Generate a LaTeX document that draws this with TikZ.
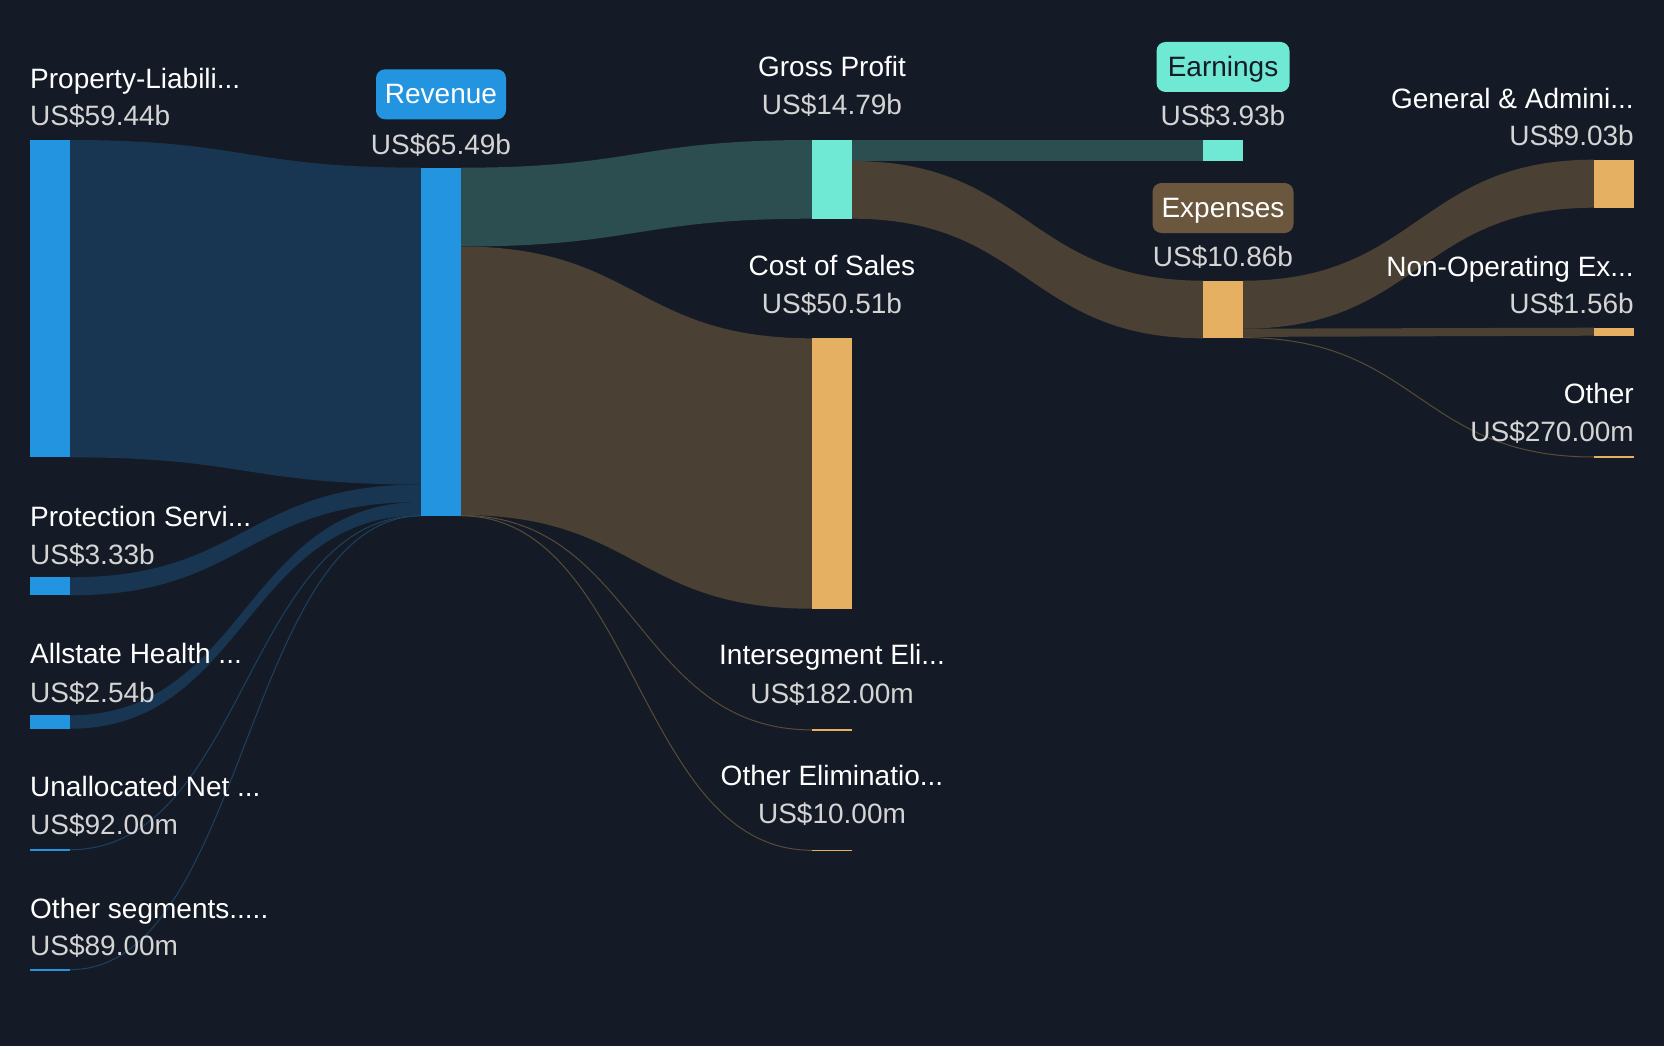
\documentclass[tikz,border=0pt]{standalone}
\usepackage{fontspec}
\setmainfont{Liberation Sans}
\definecolor{bg}{RGB}{21,27,38}
\definecolor{barblue}{RGB}{35,148,223}
\definecolor{flowblue}{RGB}{24,54,82}
\definecolor{thinblue}{RGB}{28,64,96}
\definecolor{barteal}{RGB}{111,232,212}
\definecolor{flowteal}{RGB}{44,78,81}
\definecolor{barorange}{RGB}{229,176,97}
\definecolor{flowbrown}{RGB}{74,64,51}
\definecolor{thinbrown}{RGB}{88,75,56}
\definecolor{expbox}{RGB}{107,87,61}
\definecolor{valgrey}{RGB}{212,212,212}
\newcommand\sflow[7]{%
  \pgfmathsetmacro\xmid{(#1+#4)/2}%
  \fill[#7] (#1,#2) .. controls (\xmid,#2) and (\xmid,#5) .. (#4,#5) -- (#4,#6) .. controls (\xmid,#6) and (\xmid,#3) .. (#1,#3) -- cycle;}
\newcommand\tflow[5]{%
  \pgfmathsetmacro\xmid{(#1+#3)/2}%
  \draw[#5, line width=1pt] (#1,#2) .. controls (\xmid,#2) and (\xmid,#4) .. (#3,#4);}
\newcommand\sbar[6]{%
  \pgfmathsetmacro\hh{#5-#3}%
  \node[fill=#6, inner sep=0pt, outer sep=0pt, minimum width=40pt, minimum height=\hh pt, anchor=north west] (#1) at (#2,#3) {};}
\tikzset{
  x=1pt, y=-1pt,
  lbl/.style={font=\fontsize{28}{32}\selectfont, text=white, inner sep=0pt},
  val/.style={font=\fontsize{28}{32}\selectfont, text=valgrey, inner sep=0pt},
  tagbox/.style={font=\fontsize{28}{32}\selectfont, rounded corners=9pt, inner sep=0pt, minimum height=50pt, text height=24pt, text depth=5.4pt},
}
\begin{document}
\begin{tikzpicture}
\fill[bg] (0,0) rectangle (1664,1046);
\useasboundingbox (0,0) rectangle (1664,1046);

% flows: sources -> revenue
\sflow{70}{140}{457.3}{421}{167.7}{484.5}{flowblue}
\sflow{70}{577.3}{595.3}{421}{484.5}{502}{flowblue}
\sflow{70}{715.3}{728.7}{421}{502}{515.3}{flowblue}
\tflow{70}{849.7}{421}{515.6}{thinblue}
\tflow{70}{969.7}{421}{515.9}{thinblue}
% revenue -> middle
\sflow{461}{167.7}{246.5}{812}{140}{218.7}{flowteal}
\sflow{461}{246.5}{515}{812}{338.3}{608.7}{flowbrown}
\tflow{461}{515.4}{812}{729.9}{thinbrown}
\tflow{461}{515.8}{812}{850.3}{thinbrown}
% gross profit -> earnings / expenses
\fill[flowteal] (852,140) rectangle (1203,161);
\sflow{852}{161}{218.7}{1203}{280.7}{338.3}{flowbrown}
% expenses -> right
\sflow{1243}{280.7}{328.7}{1594}{159.7}{207.7}{flowbrown}
\sflow{1243}{328.7}{336.9}{1594}{327.7}{335.7}{flowbrown}
\tflow{1243}{337.6}{1594}{457}{thinbrown}

% bars
\sbar{prop}{30}{140}{70}{457.3}{barblue}
\sbar{prot}{30}{577.3}{70}{595.3}{barblue}
\sbar{alls}{30}{715.3}{70}{728.7}{barblue}
\sbar{unal}{30}{849}{70}{850.6}{barblue}
\sbar{oseg}{30}{969}{70}{970.6}{barblue}
\sbar{rev}{421}{167.7}{461}{516}{barblue}
\sbar{gp}{812}{140}{852}{218.7}{barteal}
\sbar{cos}{812}{338.3}{852}{608.7}{barorange}
\sbar{ise}{812}{729}{852}{730.9}{barorange}
\sbar{oel}{812}{849.5}{852}{851.2}{barorange}
\sbar{earn}{1203}{140}{1243}{161}{barteal}
\sbar{exp}{1203}{280.7}{1243}{338.3}{barorange}
\sbar{gna}{1594}{159.7}{1634}{207.7}{barorange}
\sbar{nonop}{1594}{327.7}{1634}{335.7}{barorange}
\sbar{oth}{1594}{455.7}{1634}{458.3}{barorange}

% left labels
\node[lbl, anchor=base west] (propn) at (30,88.3) {Property-Liabili...};
\node[val, anchor=base west] (propv) at (30,126) {US\$59.44b};
\node[lbl, anchor=base west] (protn) at (30,526.5) {Protection Servi...};
\node[val, anchor=base west] (protv) at (30,564.7) {US\$3.33b};
\node[lbl, anchor=base west] (allsn) at (30,663) {Allstate Health ...};
\node[val, anchor=base west] (allsv) at (30,702.3) {US\$2.54b};
\node[lbl, anchor=base west] (unaln) at (30,796.3) {Unallocated Net ...};
\node[val, anchor=base west] (unalv) at (30,834.7) {US\$92.00m};
\node[lbl, anchor=base west] (osegn) at (30,918) {Other segments.....};
\node[val, anchor=base west] (osegv) at (30,955.7) {US\$89.00m};

% revenue
\node[tagbox, fill=barblue, text=white, minimum width=130pt] (revbox) at (441,94.3) {Revenue};
\node[val, anchor=base] (revv) at (441,154) {US\$65.49b};

% middle labels
\node[lbl, anchor=base] (gpn) at (832,76.7) {Gross Profit};
\node[val, anchor=base] (gpv) at (832,115) {US\$14.79b};
\node[lbl, anchor=base] (cosn) at (832,275) {Cost of Sales};
\node[val, anchor=base] (cosv) at (832,313.3) {US\$50.51b};
\node[lbl, anchor=base] (isen) at (832,664.7) {Intersegment Eli...};
\node[val, anchor=base] (isev) at (832,703) {US\$182.00m};
\node[lbl, anchor=base] (oeln) at (832,785.3) {Other Eliminatio...};
\node[val, anchor=base] (oelv) at (832,823) {US\$10.00m};

% earnings / expenses
\node[tagbox, fill=barteal, text=bg, minimum width=133pt] (earnbox) at (1223,67) {Earnings};
\node[val, anchor=base] (earnv) at (1223,126) {US\$3.93b};
\node[tagbox, fill=expbox, text=white, minimum width=141pt] (expbox) at (1223,208) {Expenses};
\node[val, anchor=base] (expv) at (1223,266.7) {US\$10.86b};

% right labels
\node[lbl, anchor=base east] (gnan) at (1634,108.3) {General \& Admini...};
\node[val, anchor=base east] (gnav) at (1634,146) {US\$9.03b};
\node[lbl, anchor=base east] (nonopn) at (1634,276) {Non-Operating Ex...};
\node[val, anchor=base east] (nonopv) at (1634,313.3) {US\$1.56b};
\node[lbl, anchor=base east] (othn) at (1634,403.3) {Other};
\node[val, anchor=base east] (othv) at (1634,441) {US\$270.00m};
\end{tikzpicture}
\end{document}
